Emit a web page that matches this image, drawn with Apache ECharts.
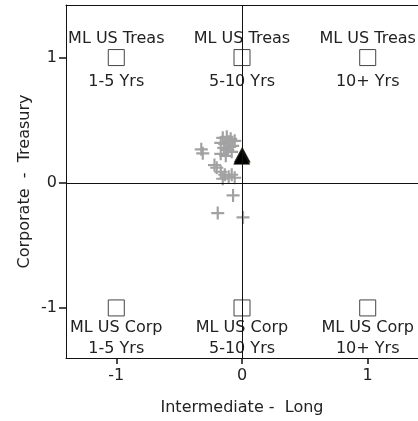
<!DOCTYPE html>
<html><head><meta charset="utf-8">
<script src="https://cdn.jsdelivr.net/npm/echarts@6/dist/echarts.min.js"></script>
<style>html,body{margin:0;padding:0;background:#fff}#c{width:418px;height:421px}</style>
</head><body><div id="c"></div>
<script>
// Reference portfolios (squares)
const refX = [-1, 0, 1];
const treasY = [1, 1, 1];
const corpY = [-1, -1, -1];
const treasName = 'ML US Treas';
const corpName = 'ML US Corp';
const maturities = ['1-5 Yrs', '5-10 Yrs', '10+ Yrs'];

// Historical style points (gray crosses)
const histX = [-0.324, -0.312, -0.153, -0.121, -0.090, -0.169, -0.137, -0.106, -0.074, -0.145, -0.113, -0.082, -0.169, -0.129, -0.058, -0.098, -0.219, -0.201, -0.169, -0.137, -0.106, -0.082, -0.058, -0.153, -0.071, -0.193, 0.008];
const histY = [0.267, 0.235, 0.359, 0.367, 0.351, 0.319, 0.311, 0.327, 0.295, 0.279, 0.263, 0.247, 0.231, 0.215, 0.335, 0.287, 0.141, 0.120, 0.088, 0.064, 0.048, 0.064, 0.040, 0.032, -0.101, -0.242, -0.277];

// Current style point (black triangle)
const curX = [0.002, -0.002];
const curY = [0.223, 0.207];

// Axis ticks
const xTicks = [-1, 0, 1];
const yTicks = [-1, 0, 1];

const FONT = 'DejaVu Sans';
const TXT = '#222';
const plus = 'path://M5,0 L7,0 L7,5 L12,5 L12,7 L7,7 L7,12 L5,12 L5,7 L0,7 L0,5 L5,5 Z';

const zip = (a, b) => a.map((v, i) => [v, b[i]]);

const chart = echarts.init(document.getElementById('c'), null, {renderer: 'canvas'});
chart.setOption({
  animation: false,
  textStyle: {fontFamily: FONT},
  grid: {left: 66, top: 5, width: 353.4, height: 354, containLabel: false},
  xAxis: [{
    type: 'value', min: -1.4, max: 1.4,
    name: 'Intermediate -  Long', nameLocation: 'middle', nameGap: 42, nameMoveOverlap: false,
    nameTextStyle: {fontFamily: FONT, fontSize: 16, color: TXT},
    splitLine: {show: false},
    axisLine: {show: true, onZero: false, lineStyle: {color: '#111', width: 1}},
    axisTick: {show: true, inside: false, length: 6, customValues: xTicks, lineStyle: {color: '#111', width: 1.5}},
    axisLabel: {customValues: xTicks, fontFamily: FONT, fontSize: 16, color: TXT, margin: 10}
  }, {
    type: 'value', min: -1.4, max: 1.4, position: 'top',
    splitLine: {show: false},
    axisLine: {show: true, onZero: false, lineStyle: {color: '#111', width: 1}},
    axisTick: {show: false}, axisLabel: {show: false}
  }],
  yAxis: {
    type: 'value', min: -1.4, max: 1.42,
    name: 'Corporate  -  Treasury', nameLocation: 'middle', nameGap: 33, nameMoveOverlap: false,
    nameTextStyle: {fontFamily: FONT, fontSize: 16, color: TXT},
    splitLine: {show: false},
    axisLine: {show: true, onZero: false, lineStyle: {color: '#111', width: 1}},
    axisTick: {show: true, inside: false, length: 7, customValues: yTicks, lineStyle: {color: '#111', width: 1.5}},
    axisLabel: {customValues: yTicks, fontFamily: FONT, fontSize: 16, color: TXT, margin: 9}
  },
  series: [
    {
      type: 'scatter', xAxisIndex: 0, symbol: plus, symbolSize: 13,
      itemStyle: {color: '#a2a2a2', opacity: 1},
      data: zip(histX, histY), z: 3,
      markLine: {
        silent: true, symbol: ['none', 'none'], label: {show: false},
        lineStyle: {color: '#111', type: 'solid', width: 1},
        data: [{xAxis: 0}, {yAxis: 0}]
      }
    },
    {
      type: 'scatter', xAxisIndex: 0, symbol: 'triangle', symbolSize: [16, 15],
      itemStyle: {color: '#000', borderColor: '#3a3320', borderWidth: 0.6, opacity: 1},
      data: zip(curX, curY), z: 4
    },
    // Treasury squares with top name label
    {
      type: 'scatter', xAxisIndex: 0, symbol: 'rect', symbolSize: 16,
      itemStyle: {color: 'rgba(0,0,0,0)', borderColor: '#444', borderWidth: 1, opacity: 1},
      label: {show: true, position: 'top', distance: 2, formatter: () => treasName,
        fontFamily: FONT, fontSize: 16, color: TXT},
      data: zip(refX, treasY), z: 2
    },
    // Treasury maturity labels below
    {
      type: 'scatter', xAxisIndex: 0, symbol: 'rect', symbolSize: 16,
      itemStyle: {color: 'rgba(0,0,0,0)', borderColor: 'rgba(0,0,0,0)', opacity: 1},
      label: {show: true, position: 'bottom', distance: 8, formatter: p => maturities[p.dataIndex],
        fontFamily: FONT, fontSize: 16, color: TXT},
      data: zip(refX, treasY), z: 2
    },
    // Corporate squares with two-line label below
    {
      type: 'scatter', xAxisIndex: 0, symbol: 'rect', symbolSize: 16,
      itemStyle: {color: 'rgba(0,0,0,0)', borderColor: '#444', borderWidth: 1, opacity: 1},
      label: {show: true, position: 'bottom', distance: 0.5,
        formatter: p => corpName + '\n' + maturities[p.dataIndex],
        fontFamily: FONT, fontSize: 16, lineHeight: 21, color: TXT},
      data: zip(refX, corpY), z: 2
    }
  ]
});
</script></body></html>
